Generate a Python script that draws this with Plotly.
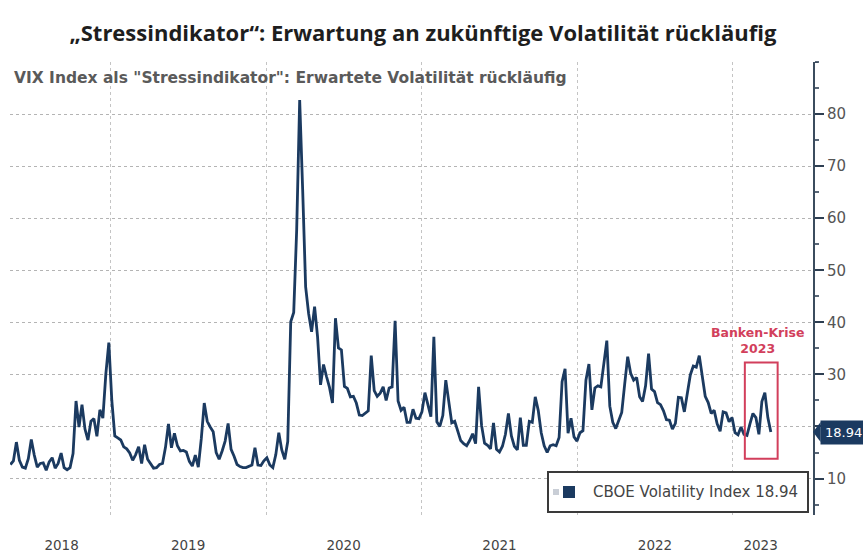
import pandas as pd
import plotly.graph_objects as go

# Weekly CBOE Volatility Index (VIX) readings, one list per calendar year
vix_2018 = [12.7, 13.4, 17.0, 13.5, 12.2, 12.0, 13.8, 17.5, 14.5, 12.2, 12.9, 13.0,
            11.6, 13.2, 14.0, 12.0, 12.9, 14.9, 12.1, 11.7, 12.1, 14.8, 24.9, 19.9,
            24.2, 19.5, 17.4, 21.0, 21.5, 18.1, 23.2, 21.6, 30.1, 36.1]
vix_2019 = [25.0, 18.2, 17.8, 17.4, 16.1, 15.7, 14.9, 13.5, 14.6, 16.1, 12.9, 16.5,
            13.7, 12.8, 12.0, 12.1, 12.7, 12.9, 16.0, 20.5, 15.9, 18.7, 16.3, 15.3,
            15.4, 15.1, 13.3, 12.4, 14.5, 12.2, 17.6, 24.5, 21.0, 19.9, 19.0, 15.0,
            13.7, 15.3, 17.2, 20.6, 15.6, 14.3, 12.7, 12.3, 12.1, 12.1, 12.3, 12.6,
            15.9, 12.6, 12.5, 13.4]
vix_2020 = [14.0, 12.6, 12.1, 14.6, 18.8, 15.5, 13.7, 17.1, 40.1, 41.9, 57.8, 82.7,
            65.5, 46.8, 41.7, 38.2, 43.0, 37.2, 28.0, 31.9, 29.6, 27.5, 24.5, 40.8,
            35.1, 34.7, 27.7, 27.3, 25.7, 25.8, 24.5, 22.2, 22.1, 22.5, 23.0, 33.6,
            26.9, 25.8, 26.4, 27.6, 25.0, 27.4, 27.6, 40.3, 24.9, 23.1, 23.7, 20.8,
            20.8, 23.3, 21.6, 21.5]
vix_2021 = [22.8, 26.5, 24.3, 21.9, 37.2, 20.9, 20.0, 22.1, 28.9, 24.7, 20.7, 21.0,
            18.9, 17.3, 16.7, 16.3, 17.3, 18.6, 16.7, 27.6, 20.2, 16.8, 16.4, 15.7,
            20.7, 15.6, 15.1, 16.2, 18.5, 22.5, 18.2, 16.2, 15.5, 21.7, 16.4, 16.4,
            21.0, 20.8, 25.7, 23.1, 18.8, 16.3, 15.0, 16.3, 16.5, 16.3, 17.9, 28.6,
            31.1, 18.7, 21.6, 18.0, 17.2]
vix_2022 = [18.8, 19.2, 28.9, 32.0, 23.2, 27.4, 27.8, 27.6, 32.0, 36.5, 23.9, 20.8,
            19.6, 21.2, 22.7, 28.2, 33.4, 30.2, 28.9, 29.4, 25.7, 24.8, 27.8, 34.0,
            27.2, 26.7, 24.6, 24.2, 23.0, 21.3, 21.2, 19.5, 20.6, 25.6, 25.5, 22.8,
            26.3, 29.9, 31.6, 31.4, 33.6, 29.7, 25.8, 24.6, 22.5, 23.1, 20.5, 19.1,
            22.8, 22.6, 20.9, 21.7]
vix_2023 = [18.8, 18.4, 19.9, 18.5, 18.3, 20.5, 22.5, 21.7, 18.5, 24.8, 26.5, 21.7,
            18.94]

# First Friday of each yearly block
year_starts = ["2018-05-11", "2019-01-04", "2020-01-03", "2021-01-01",
               "2022-01-07", "2023-01-06"]
year_blocks = [vix_2018, vix_2019, vix_2020, vix_2021, vix_2022, vix_2023]

# Year labels and where they sit on the time axis
year_labels = ["2018", "2019", "2020", "2021", "2022", "2023"]
year_label_dates = ["2018-09-08", "2019-07-02", "2020-07-01", "2021-07-02",
                    "2022-07-02", "2023-03-07"]

# Value axis ticks (the 20 label sits behind the last-value tag)
y_ticks = [10, 20, 30, 40, 50, 60, 70, 80]
y_tick_text = ["10", "", "30", "40", "50", "60", "70", "80"]

series_name = "CBOE Volatility Index"
last_value = vix_2023[-1]

dates, values = [], []
for start, block in zip(year_starts, year_blocks):
    dates.extend(pd.date_range(start, periods=len(block), freq="7D"))
    values.extend(block)

NAVY = "#1b3a60"
CRIMSON = "#d23f5c"
GRID = "#b4b4b4"

# pixel helpers for the plot frame (l=10, r=50, t=62, b=38 in an 863x553 page)
PLOT_L, PLOT_W, PLOT_B, PLOT_H = 10, 803, 515, 453


def px_x(px):
    return (px - PLOT_L) / PLOT_W


def px_y(py):
    return (PLOT_B - py) / PLOT_H


fig = go.Figure()
fig.add_trace(go.Scatter(
    x=dates, y=values, mode="lines",
    line=dict(color=NAVY, width=2.8),
    name=series_name, showlegend=False, hoverinfo="skip",
))

fig.update_layout(
    width=863, height=553,
    margin=dict(l=10, r=50, t=62, b=38),
    paper_bgcolor="white", plot_bgcolor="white",
    title=dict(
        text="\u201eStressindikator\u201c: Erwartung an zukünftige Volatilität rückläufig",
        font=dict(family="Open Sans", size=22, color="#1e1e1e", weight=700),
        x=0.49, xanchor="center", yref="container", y=1 - 33 / 553, yanchor="middle",
    ),
    showlegend=False,
    font=dict(family="DejaVu Sans"),
)

fig.update_xaxes(
    type="date", automargin=False,
    range=["2018-05-10", "2023-07-08"],
    tickvals=year_label_dates, ticktext=year_labels,
    ticks="outside", ticklen=18, tickcolor="rgba(0,0,0,0)",
    showgrid=False, showline=False, zeroline=False,
    tickfont=dict(family="DejaVu Sans", size=13.5, color="#444444"),
    minor=dict(dtick="M12", tick0="2019-01-01", showgrid=True,
               gridcolor="#c4c4c4", griddash="dot", gridwidth=1, ticks=""),
)

fig.update_yaxes(
    side="right", automargin=False, range=[3, 90],
    tickvals=y_ticks, ticktext=y_tick_text,
    ticks="outside", ticklen=9, tickwidth=2, tickcolor="#2e3f52",
    showline=True, linecolor="#3b4c5e", linewidth=2,
    showgrid=True, gridcolor=GRID, griddash="dot", gridwidth=1,
    zeroline=False,
    tickfont=dict(family="DejaVu Sans", size=15, color="#555555"),
    minor=dict(dtick=5, ticks="outside", ticklen=4, tickcolor="#5a6878", showgrid=False),
)

# subtitle
fig.add_annotation(
    text='VIX Index als "Stressindikator": Erwartete Volatilität rückläufig',
    xref="paper", yref="paper", x=0, y=px_y(78), xshift=2,
    xanchor="left", yanchor="middle", showarrow=False,
    font=dict(family="DejaVu Sans", size=15.5, color="#5a5a5a", weight="bold"),
)

# banking crisis highlight
fig.add_shape(type="rect", xref="x", yref="y",
              x0="2023-01-29", x1="2023-04-16", y0=13.8, y1=32.3,
              line=dict(color=CRIMSON, width=2), fillcolor="rgba(0,0,0,0)")
fig.add_annotation(
    text="Banken-Krise<br>2023", xref="x", yref="y", x="2023-02-27", y=36.5,
    showarrow=False, xanchor="center", yanchor="middle",
    font=dict(family="DejaVu Sans", size=12.5, color=CRIMSON, weight="bold"),
)

# last-value tag on the right axis
fig.add_annotation(
    text=f"{last_value:.2f}", xref="paper", yref="y", x=1, y=last_value,
    xshift=7, xanchor="left", yanchor="middle", showarrow=False,
    bgcolor=NAVY, borderpad=4,
    font=dict(family="DejaVu Sans", size=13, color="white"),
)
tag_half = 10 / 5.21
fig.add_shape(type="path", xref="paper", yref="y",
              path=f"M 1.0,{last_value} L 1.0095,{last_value + tag_half} "
                   f"L 1.0095,{last_value - tag_half} Z",
              fillcolor=NAVY, line=dict(width=0))

# top cap of the value axis
fig.add_shape(type="line", xref="paper", yref="y", x0=1.0, x1=1.006, y0=90, y1=90,
              line=dict(color="#3b4c5e", width=2))

# legend box in the lower right corner
fig.add_shape(type="rect", xref="paper", yref="paper",
              x0=px_x(548), x1=px_x(808), y0=px_y(512), y1=px_y(472),
              fillcolor="white", line=dict(color="#3a3a3a", width=2))
fig.add_shape(type="rect", xref="paper", yref="paper",
              x0=px_x(553), x1=px_x(559), y0=px_y(495), y1=px_y(489),
              fillcolor="#c9ced6", line=dict(width=0))
fig.add_shape(type="rect", xref="paper", yref="paper",
              x0=px_x(563), x1=px_x(575), y0=px_y(498), y1=px_y(486),
              fillcolor=NAVY, line=dict(width=0))
fig.add_annotation(
    text=f"{series_name} {last_value:.2f}",
    xref="paper", yref="paper", x=px_x(591), y=px_y(492),
    xanchor="left", yanchor="middle", showarrow=False,
    font=dict(family="DejaVu Sans", size=15, color="#444444"),
)

fig.write_html("out.html")
